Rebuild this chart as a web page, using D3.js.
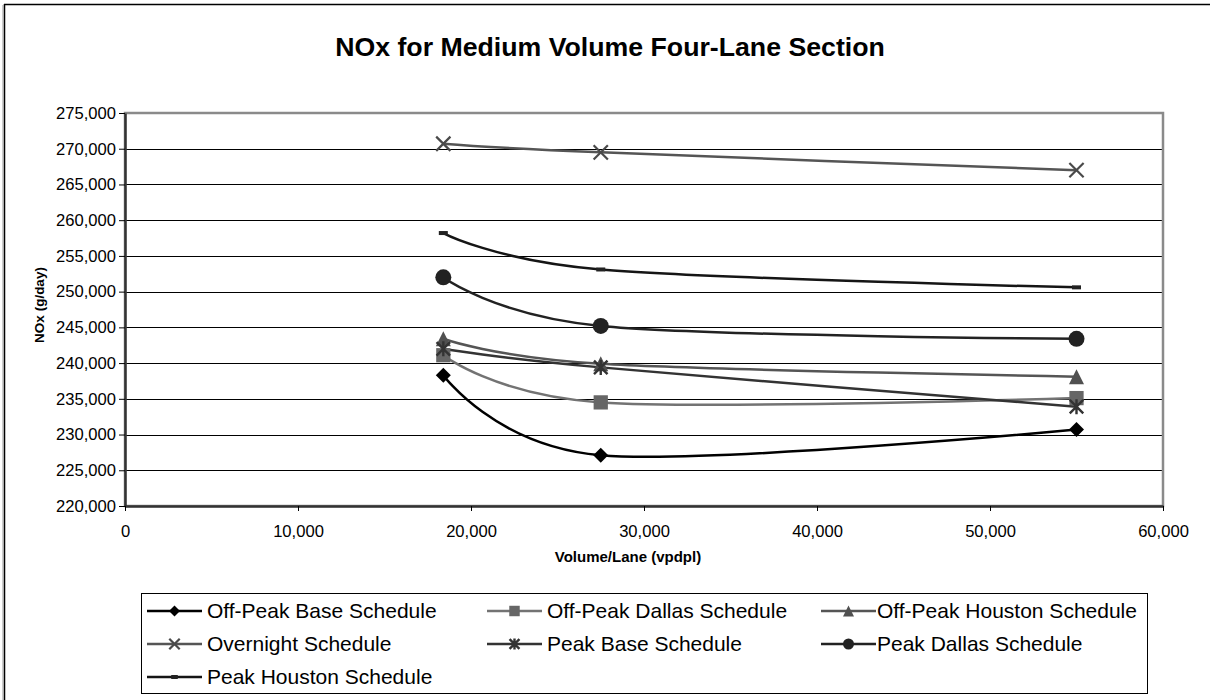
<!DOCTYPE html>
<html><head><meta charset="utf-8">
<script src="https://cdn.jsdelivr.net/npm/d3@7"></script>
<style>
html,body{margin:0;padding:0;background:#fff;overflow:hidden;}
svg{display:block;font-family:"Liberation Sans",Arial,sans-serif;}
</style></head>
<body><svg id="chart" width="1210" height="700"></svg>
<script>
const xValues = [18400, 27500, 55000];
const seriesNames = ["Off-Peak Base Schedule","Off-Peak Dallas Schedule","Off-Peak Houston Schedule","Overnight Schedule","Peak Base Schedule","Peak Dallas Schedule","Peak Houston Schedule"];
const offPeakBase = [238300, 227100, 230700];
const offPeakDallas = [241100, 234500, 235100];
const offPeakHouston = [243400, 239900, 238100];
const overnight = [270700, 269500, 267000];
const peakBase = [242000, 239400, 233900];
const peakDallas = [252000, 245200, 243400];
const peakHouston = [258200, 253100, 250600];
const xTicks = [0, 10000, 20000, 30000, 40000, 50000, 60000];
const yTicks = [220000,225000,230000,235000,240000,245000,250000,255000,260000,265000,270000,275000];

const seriesValues = [offPeakBase, offPeakDallas, offPeakHouston, overnight, peakBase, peakDallas, peakHouston];
const seriesColors = ["#000000","#737373","#555555","#555555","#333333","#222222","#151515"];
const markerColors = ["#000000","#666666","#505050","#4a4a4a","#333333","#222222","#222222"];
const markerTypes = ["diamond","square","triangle","x","asterisk","circle","dash"];

const svg = d3.select("#chart");
const L = 125, R = 1163, T = 113, B = 506;
const x = d3.scaleLinear().domain([0, 60000]).range([L, R]);
const y = d3.scaleLinear().domain([220000, 275000]).range([B, T]);

// outer chart border (only top and left visible)
svg.append("line").attr("x1",4).attr("x2",1210).attr("y1",4.5).attr("y2",4.5).attr("stroke","#000").attr("stroke-width",1.5);
svg.append("line").attr("x1",4.5).attr("x2",4.5).attr("y1",4).attr("y2",700).attr("stroke","#000").attr("stroke-width",1.5);
svg.append("line").attr("x1",3).attr("x2",3).attr("y1",5).attr("y2",700).attr("stroke","#999").attr("stroke-width",1);

// title
svg.append("text").attr("x",610).attr("y",56).attr("text-anchor","middle")
  .attr("font-size",26.7).attr("font-weight","bold").text("NOx for Medium Volume Four-Lane Section");

// gridlines
svg.append("g").selectAll("line").data(yTicks.slice(1,-1)).join("line")
  .attr("x1",L).attr("x2",R).attr("y1",d=>Math.round(y(d))+0.5).attr("y2",d=>Math.round(y(d))+0.5)
  .attr("stroke","#000").attr("stroke-width",1);

// plot area border (gray)
svg.append("rect").attr("x",L).attr("y",T).attr("width",R-L).attr("height",B-T)
  .attr("fill","none").attr("stroke","#8a8a8a").attr("stroke-width",2.5);

// axes
const yAxis = d3.axisLeft(y).tickValues(yTicks).tickFormat(d3.format(",")).tickSize(6).tickSizeOuter(0).tickPadding(3);
const gy = svg.append("g").attr("transform",`translate(${L},0)`).call(yAxis);
const xAxis = d3.axisBottom(x).tickValues(xTicks).tickFormat(d3.format(",")).tickSize(5).tickSizeOuter(0).tickPadding(14);
const gx = svg.append("g").attr("transform",`translate(0,${B})`).call(xAxis);
[gx, gy].forEach(g=>{
  g.select(".domain").attr("stroke","#333").attr("stroke-width",2.5);
  g.selectAll(".tick line").attr("stroke","#000").attr("stroke-width",1);
  g.selectAll(".tick text").attr("font-size",16.6).attr("fill","#000").attr("font-family","Liberation Sans, Arial, sans-serif");
});

// axis titles
svg.append("text").attr("x",628).attr("y",562).attr("text-anchor","middle")
  .attr("font-size",15).attr("font-weight","bold").text("Volume/Lane (vpdpl)");
svg.append("text").attr("transform","translate(44,305) rotate(-90)").attr("text-anchor","middle")
  .attr("font-size",13.5).attr("font-weight","bold").text("NOx (g/day)");

// marker drawing
function drawMarker(g, type, cx, cy, s, color){
  const h = s/2;
  if(type==="diamond"){
    g.append("path").attr("d",`M${cx},${cy-h}L${cx+h},${cy}L${cx},${cy+h}L${cx-h},${cy}Z`).attr("fill",color);
  } else if(type==="square"){
    const q = h*0.95;
    g.append("rect").attr("x",cx-q).attr("y",cy-q).attr("width",2*q).attr("height",2*q).attr("fill",color);
  } else if(type==="triangle"){
    g.append("path").attr("d",`M${cx},${cy-h}L${cx+h},${cy+h}L${cx-h},${cy+h}Z`).attr("fill",color);
  } else if(type==="x"){
    const q = h*0.95;
    g.append("path").attr("d",`M${cx-q},${cy-q}L${cx+q},${cy+q}M${cx-q},${cy+q}L${cx+q},${cy-q}`)
      .attr("stroke",color).attr("stroke-width",2.2).attr("fill","none");
  } else if(type==="asterisk"){
    const q = h*0.9;
    g.append("path").attr("d",`M${cx-q},${cy-q}L${cx+q},${cy+q}M${cx-q},${cy+q}L${cx+q},${cy-q}M${cx},${cy-h}L${cx},${cy+h}`)
      .attr("stroke",color).attr("stroke-width",2.4).attr("fill","none");
  } else if(type==="circle"){
    g.append("circle").attr("cx",cx).attr("cy",cy).attr("r",h).attr("fill",color);
  } else if(type==="dash"){
    g.append("rect").attr("x",cx-s*0.3).attr("y",cy-2).attr("width",s*0.6).attr("height",4).attr("fill",color);
  }
}

// lines
const line = d3.line().x(d=>x(d[0])).y(d=>y(d[1])).curve(d3.curveCatmullRom.alpha(0));
const gl = svg.append("g");
seriesValues.forEach((vals,i)=>{
  const pts = xValues.map((xv,j)=>[xv, vals[j]]);
  gl.append("path").attr("d",line(pts)).attr("fill","none")
    .attr("stroke",seriesColors[i]).attr("stroke-width",2.5);
});
const gm = svg.append("g");
seriesValues.forEach((vals,i)=>{
  xValues.forEach((xv,j)=>{
    drawMarker(gm, markerTypes[i], x(xv), y(vals[j]), markerTypes[i]==="circle"?16:15, markerColors[i]);
  });
});

// legend
svg.append("rect").attr("x",141.5).attr("y",593.5).attr("width",1006).attr("height",100)
  .attr("fill","#fff").attr("stroke","#000").attr("stroke-width",1);
const colLineX = [147, 487, 821];
const colTextX = [207, 547, 877];
const rowY = [611, 644, 677];
const lg = svg.append("g");
seriesNames.forEach((name,i)=>{
  const c = i%3, r = Math.floor(i/3);
  const lx = colLineX[c], ly = rowY[r];
  lg.append("line").attr("x1",lx).attr("x2",lx+55).attr("y1",ly).attr("y2",ly)
    .attr("stroke",seriesColors[i]).attr("stroke-width",2.5);
  drawMarker(lg, markerTypes[i], lx+27.5, ly, 11, markerColors[i]);
  lg.append("text").attr("x",colTextX[c]).attr("y",ly+7).attr("font-size",21).attr("fill","#000").text(name);
});
</script></body></html>
